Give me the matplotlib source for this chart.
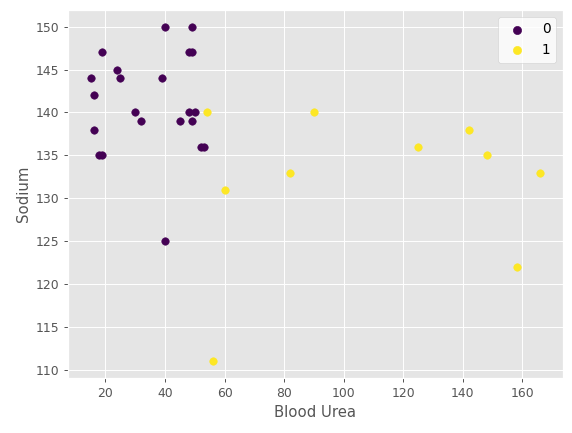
import matplotlib
matplotlib.use("Agg")
import matplotlib.pyplot as plt

x0 = [15,16,16,18,19,19,24,25,30,32,39,40,40,45,48,49,48,49,50,49,52,53]
y0 = [144,142,138,135,135,147,145,144,140,139,144,150,125,139,147,147,140,139,140,150,136,136]
x1 = [54,56,60,82,90,125,142,148,158,166]
y1 = [140,111,131,133,140,136,138,135,122,133]
labels = ["0", "1"]

plt.style.use("ggplot")
dpi = 89.4
fig, ax = plt.subplots(figsize=(572/dpi, 433/dpi), dpi=dpi)
ax.scatter(x0, y0, color="#440154", label=labels[0])
ax.scatter(x1, y1, color="#fde725", label=labels[1])
ax.set_xlabel("Blood Urea")
ax.set_ylabel("Sodium")
ax.set_yticks(range(110, 151, 5))
ax.legend(loc="upper right", facecolor="white", framealpha=0.8,
          fontsize=11, markerscale=1.1)
fig.subplots_adjust(left=0.119, right=0.984, top=0.977, bottom=0.127)
fig.savefig("out.png", dpi=dpi)
